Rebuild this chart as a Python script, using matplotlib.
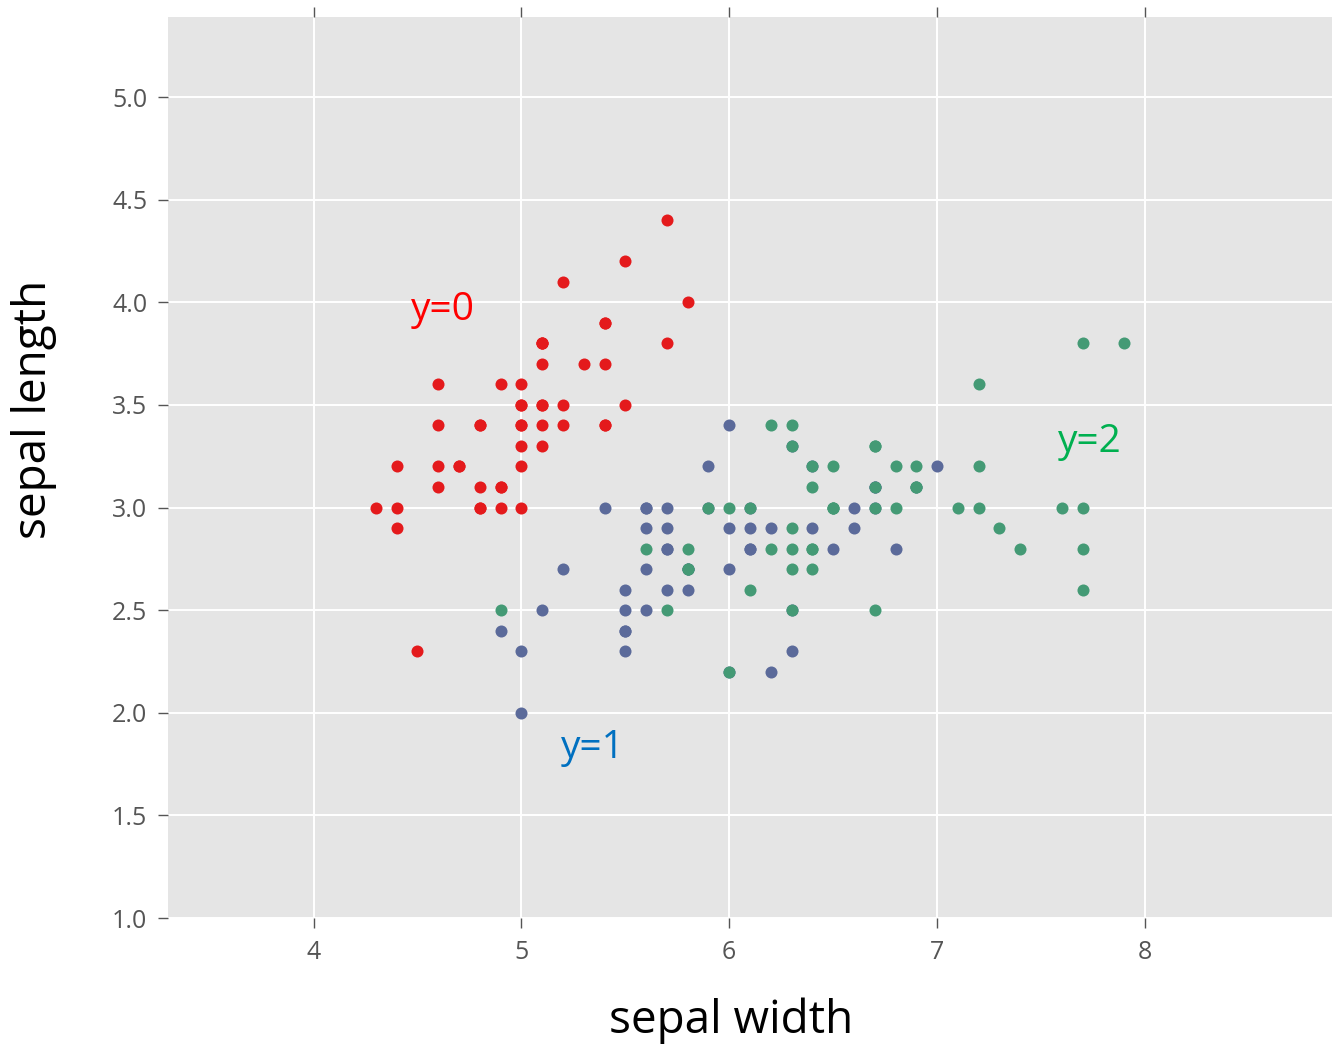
import numpy as np
import matplotlib.pyplot as plt

# sepal length / sepal width por clase (iris)
sl_0 = [5.1,4.9,4.7,4.6,5.0,5.4,4.6,5.0,4.4,4.9,5.4,4.8,4.8,4.3,5.8,5.7,5.4,5.1,5.7,5.1,
        5.4,5.1,4.6,5.1,4.8,5.0,5.0,5.2,5.2,4.7,4.8,5.4,5.2,5.5,4.9,5.0,5.5,4.9,4.4,5.1,
        5.0,4.5,4.4,5.0,5.1,4.8,5.1,4.6,5.3,5.0]
sw_0 = [3.5,3.0,3.2,3.1,3.6,3.9,3.4,3.4,2.9,3.1,3.7,3.4,3.0,3.0,4.0,4.4,3.9,3.5,3.8,3.8,
        3.4,3.7,3.6,3.3,3.4,3.0,3.4,3.5,3.4,3.2,3.1,3.4,4.1,4.2,3.1,3.2,3.5,3.6,3.0,3.4,
        3.5,2.3,3.2,3.5,3.8,3.0,3.8,3.2,3.7,3.3]
sl_1 = [7.0,6.4,6.9,5.5,6.5,5.7,6.3,4.9,6.6,5.2,5.0,5.9,6.0,6.1,5.6,6.7,5.6,5.8,6.2,5.6,
        5.9,6.1,6.3,6.1,6.4,6.6,6.8,6.7,6.0,5.7,5.5,5.5,5.8,6.0,5.4,6.0,6.7,6.3,5.6,5.5,
        5.5,6.1,5.8,5.0,5.6,5.7,5.7,6.2,5.1,5.7]
sw_1 = [3.2,3.2,3.1,2.3,2.8,2.8,3.3,2.4,2.9,2.7,2.0,3.0,2.2,2.9,2.9,3.1,3.0,2.7,2.2,2.5,
        3.2,2.8,2.5,2.8,2.9,3.0,2.8,3.0,2.9,2.6,2.4,2.4,2.7,2.7,3.0,3.4,3.1,2.3,3.0,2.5,
        2.6,3.0,2.6,2.3,2.7,3.0,2.9,2.9,2.5,2.8]
sl_2 = [6.3,5.8,7.1,6.3,6.5,7.6,4.9,7.3,6.7,7.2,6.5,6.4,6.8,5.7,5.8,6.4,6.5,7.7,7.7,6.0,
        6.9,5.6,7.7,6.3,6.7,7.2,6.2,6.1,6.4,7.2,7.4,7.9,6.4,6.3,6.1,7.7,6.3,6.4,6.0,6.9,
        6.7,6.9,5.8,6.8,6.7,6.7,6.3,6.5,6.2,5.9]
sw_2 = [3.3,2.7,3.0,2.9,3.0,3.0,2.5,2.9,2.5,3.6,3.2,2.7,3.0,2.5,2.8,3.2,3.0,3.8,2.6,2.2,
        3.2,2.8,2.8,2.7,3.3,3.2,2.8,3.0,2.8,3.0,2.8,3.8,2.8,2.8,2.6,3.0,3.4,3.1,3.0,3.1,
        3.1,3.1,2.7,3.2,3.3,3.0,2.5,3.0,3.4,3.0]

x_ticks = [4, 5, 6, 7, 8]
y_ticks = [1.0, 1.5, 2.0, 2.5, 3.0, 3.5, 4.0, 4.5, 5.0]

plt.rcParams['font.family'] = ['Open Sans', 'DejaVu Sans']

fig = plt.figure(figsize=(13.32, 10.51), dpi=100)
ax = fig.add_axes([168/1332, 133/1051, 1164/1332, 901/1051])
ax.set_facecolor('#e5e5e5')
for s in ax.spines.values():
    s.set_visible(False)
ax.set_axisbelow(True)
ax.grid(True, color='white', linewidth=1.4)

ax.scatter(sl_0, sw_0, s=75, color='#e41a1c', linewidths=0, zorder=3)
ax.scatter(sl_1, sw_1, s=75, color='#5b6a9a', linewidths=0, zorder=3)
ax.scatter(sl_2, sw_2, s=75, color='#449a75', linewidths=0, zorder=3)

ax.text(4.47, 3.96, 'y=0', color='#ff0000', fontsize=28, va='center')
ax.text(5.19, 1.83, 'y=1', color='#0070c0', fontsize=28, va='center')
ax.text(7.58, 3.32, 'y=2', color='#00b050', fontsize=28, va='center')

ax.set_xlim(3.3, 8.9)
ax.set_ylim(1.0, 5.39)
ax.set_xticks(x_ticks)
ax.set_yticks(y_ticks)
ax.set_yticklabels(['%.1f' % v for v in y_ticks])
ax.tick_params(axis='x', top=True, bottom=True, direction='out', length=7,
               width=1, color='#555555', labelcolor='#555555', labelsize=18, pad=9)
ax.tick_params(axis='y', left=True, right=False, direction='out', length=7,
               width=1, color='#555555', labelcolor='#555555', labelsize=18, pad=8)

ax.set_xlabel('sepal width', fontsize=33)
ax.set_ylabel('sepal length', fontsize=33)
ax.xaxis.set_label_coords(0.484, -0.088)
ax.yaxis.set_label_coords(-0.095, 0.564)

plt.savefig('out.png', dpi=100)
